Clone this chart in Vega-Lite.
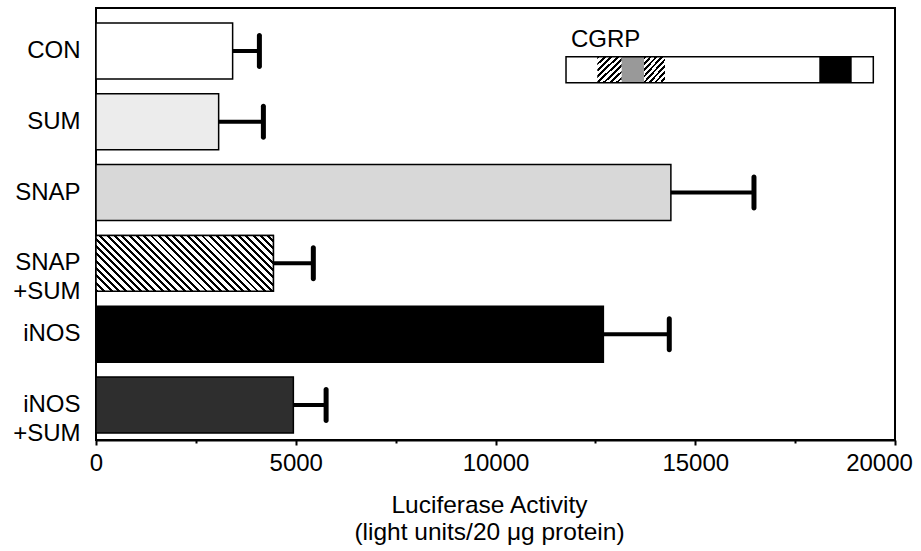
{
  "$schema": "https://vega.github.io/schema/vega-lite/v6.json",
  "width": 799,
  "height": 432,
  "autosize": {"type": "none"},
  "padding": {"left": 96, "top": 8, "right": 26, "bottom": 111},
  "background": "white",
  "config": {"font": "Liberation Sans", "view": {"stroke": "black", "strokeWidth": 2}},
  "datasets": {
    "bars": [
      {"group": "CON", "value": 3420, "upper": 4090},
      {"group": "SUM", "value": 3070, "upper": 4190},
      {"group": "SNAP", "value": 14390, "upper": 16470},
      {"group": "SNAP +SUM", "value": 4440, "upper": 5440},
      {"group": "iNOS", "value": 12700, "upper": 14350},
      {"group": "iNOS +SUM", "value": 4940, "upper": 5760}
    ],
    "cgrp": [
      {"kind": "hatch", "start": 12548, "end": 13159, "top": 0.676, "bottom": 1.0375, "name": ""},
      {"kind": "hatch", "start": 13717, "end": 14243, "top": 0.676, "bottom": 1.0375, "name": ""},
      {"kind": "gray", "start": 13159, "end": 13717, "top": 0.676, "bottom": 1.0375, "name": ""},
      {"kind": "black", "start": 18105, "end": 18916, "top": 0.676, "bottom": 1.0375, "name": ""},
      {"kind": "box", "start": 11765, "end": 19457, "top": 0.676, "bottom": 1.0375, "name": ""},
      {"kind": "label", "start": 11890, "end": 11890, "top": 0.5375, "bottom": 0.5375, "name": "CGRP"}
    ]
  },
  "layer": [
    {
      "data": {"name": "bars"},
      "encoding": {
        "y": {
          "field": "group",
          "type": "nominal",
          "scale": {
            "domain": ["CON", "SUM", "SNAP", "SNAP +SUM", "iNOS", "iNOS +SUM"],
            "paddingInner": 0.21,
            "paddingOuter": 0.156,
            "align": 0.68
          },
          "axis": {
            "title": null,
            "domain": false,
            "ticks": false,
            "labelFontSize": 24,
            "labelColor": "black",
            "labelPadding": 16,
            "labelAlign": "right",
            "labelBaseline": "middle",
            "labelLineHeight": 29,
            "labelExpr": "split(datum.label, ' ')"
          }
        }
      },
      "layer": [
        {
          "mark": {"type": "bar", "stroke": "black", "strokeWidth": 1.5},
          "encoding": {
            "x": {
              "field": "value",
              "type": "quantitative",
              "scale": {"domain": [0, 20000], "nice": false},
              "axis": {
                "values": [0, 2500, 5000, 7500, 10000, 12500, 15000, 17500, 20000],
                "format": "d",
                "labelExpr": "datum.value % 5000 === 0 ? datum.label : ''",
                "grid": false,
                "domainColor": "black",
                "domainWidth": 2,
                "tickColor": "black",
                "tickWidth": 2,
                "tickSize": {"condition": {"test": "datum.value % 5000 === 0", "value": 5}, "value": 3},
                "labelFlush": false,
                "labelOffset": {"condition": {"test": "datum.value === 20000", "value": -16}, "value": 0},
                "labelFontSize": 24,
                "labelColor": "black",
                "labelPadding": 6,
                "title": ["Luciferase Activity", "(light units/20 μg protein)"],
                "titleFontSize": 24.5,
                "titleFontWeight": "normal",
                "titleColor": "black",
                "titleLineHeight": 27,
                "titleX": 393,
                "titleY": 53
              }
            },
            "fill": {
              "condition": [
                {"test": "datum.group === 'SUM'", "value": "#ececec"},
                {"test": "datum.group === 'SNAP'", "value": "#d8d8d8"},
                {"test": "datum.group === 'SNAP +SUM'", "value": "#888888"},
                {"test": "datum.group === 'iNOS'", "value": "black"},
                {"test": "datum.group === 'iNOS +SUM'", "value": "#2e2e2e"}
              ],
              "value": "white"
            }
          }
        },
        {
          "transform": [{"filter": "datum.group === 'SNAP +SUM'"}],
          "mark": {
            "type": "bar",
            "stroke": "black",
            "strokeWidth": 1.5,
            "fill": {
              "gradient": "linear", "x1": 0, "y1": 1, "x2": 1.1964, "y2": 0.6228,
              "stops": [
                {"offset":0,"color":"black"},{"offset":0.0125,"color":"black"},{"offset":0.0125,"color":"white"},{"offset":0.03125,"color":"white"},
                {"offset":0.03125,"color":"black"},{"offset":0.04375,"color":"black"},{"offset":0.04375,"color":"white"},{"offset":0.0625,"color":"white"},
                {"offset":0.0625,"color":"black"},{"offset":0.075,"color":"black"},{"offset":0.075,"color":"white"},{"offset":0.09375,"color":"white"},
                {"offset":0.09375,"color":"black"},{"offset":0.10625,"color":"black"},{"offset":0.10625,"color":"white"},{"offset":0.125,"color":"white"},
                {"offset":0.125,"color":"black"},{"offset":0.1375,"color":"black"},{"offset":0.1375,"color":"white"},{"offset":0.15625,"color":"white"},
                {"offset":0.15625,"color":"black"},{"offset":0.16875,"color":"black"},{"offset":0.16875,"color":"white"},{"offset":0.1875,"color":"white"},
                {"offset":0.1875,"color":"black"},{"offset":0.2,"color":"black"},{"offset":0.2,"color":"white"},{"offset":0.21875,"color":"white"},
                {"offset":0.21875,"color":"black"},{"offset":0.23125,"color":"black"},{"offset":0.23125,"color":"white"},{"offset":0.25,"color":"white"},
                {"offset":0.25,"color":"black"},{"offset":0.2625,"color":"black"},{"offset":0.2625,"color":"white"},{"offset":0.28125,"color":"white"},
                {"offset":0.28125,"color":"black"},{"offset":0.29375,"color":"black"},{"offset":0.29375,"color":"white"},{"offset":0.3125,"color":"white"},
                {"offset":0.3125,"color":"black"},{"offset":0.325,"color":"black"},{"offset":0.325,"color":"white"},{"offset":0.34375,"color":"white"},
                {"offset":0.34375,"color":"black"},{"offset":0.35625,"color":"black"},{"offset":0.35625,"color":"white"},{"offset":0.375,"color":"white"},
                {"offset":0.375,"color":"black"},{"offset":0.3875,"color":"black"},{"offset":0.3875,"color":"white"},{"offset":0.40625,"color":"white"},
                {"offset":0.40625,"color":"black"},{"offset":0.41875,"color":"black"},{"offset":0.41875,"color":"white"},{"offset":0.4375,"color":"white"},
                {"offset":0.4375,"color":"black"},{"offset":0.45,"color":"black"},{"offset":0.45,"color":"white"},{"offset":0.46875,"color":"white"},
                {"offset":0.46875,"color":"black"},{"offset":0.48125,"color":"black"},{"offset":0.48125,"color":"white"},{"offset":0.5,"color":"white"},
                {"offset":0.5,"color":"black"},{"offset":0.5125,"color":"black"},{"offset":0.5125,"color":"white"},{"offset":0.53125,"color":"white"},
                {"offset":0.53125,"color":"black"},{"offset":0.54375,"color":"black"},{"offset":0.54375,"color":"white"},{"offset":0.5625,"color":"white"},
                {"offset":0.5625,"color":"black"},{"offset":0.575,"color":"black"},{"offset":0.575,"color":"white"},{"offset":0.59375,"color":"white"},
                {"offset":0.59375,"color":"black"},{"offset":0.60625,"color":"black"},{"offset":0.60625,"color":"white"},{"offset":0.625,"color":"white"},
                {"offset":0.625,"color":"black"},{"offset":0.6375,"color":"black"},{"offset":0.6375,"color":"white"},{"offset":0.65625,"color":"white"},
                {"offset":0.65625,"color":"black"},{"offset":0.66875,"color":"black"},{"offset":0.66875,"color":"white"},{"offset":0.6875,"color":"white"},
                {"offset":0.6875,"color":"black"},{"offset":0.7,"color":"black"},{"offset":0.7,"color":"white"},{"offset":0.71875,"color":"white"},
                {"offset":0.71875,"color":"black"},{"offset":0.73125,"color":"black"},{"offset":0.73125,"color":"white"},{"offset":0.75,"color":"white"},
                {"offset":0.75,"color":"black"},{"offset":0.7625,"color":"black"},{"offset":0.7625,"color":"white"},{"offset":0.78125,"color":"white"},
                {"offset":0.78125,"color":"black"},{"offset":0.79375,"color":"black"},{"offset":0.79375,"color":"white"},{"offset":0.8125,"color":"white"},
                {"offset":0.8125,"color":"black"},{"offset":0.825,"color":"black"},{"offset":0.825,"color":"white"},{"offset":0.84375,"color":"white"},
                {"offset":0.84375,"color":"black"},{"offset":0.85625,"color":"black"},{"offset":0.85625,"color":"white"},{"offset":0.875,"color":"white"},
                {"offset":0.875,"color":"black"},{"offset":0.8875,"color":"black"},{"offset":0.8875,"color":"white"},{"offset":0.90625,"color":"white"},
                {"offset":0.90625,"color":"black"},{"offset":0.91875,"color":"black"},{"offset":0.91875,"color":"white"},{"offset":0.9375,"color":"white"},
                {"offset":0.9375,"color":"black"},{"offset":0.95,"color":"black"},{"offset":0.95,"color":"white"},{"offset":0.96875,"color":"white"},
                {"offset":0.96875,"color":"black"},{"offset":0.98125,"color":"black"},{"offset":0.98125,"color":"white"},{"offset":1,"color":"white"}
              ]
            }
          },
          "encoding": {
            "x": {"field": "value", "type": "quantitative"}
          }
        },
        {
          "mark": {"type": "rule", "strokeWidth": 4, "color": "black"},
          "encoding": {
            "x": {"field": "value", "type": "quantitative"},
            "x2": {"field": "upper"}
          }
        },
        {
          "mark": {"type": "tick", "color": "black", "size": 36, "thickness": 5, "cornerRadius": 2.5, "opacity": 1},
          "encoding": {
            "x": {"field": "upper", "type": "quantitative"}
          }
        }
      ]
    },
    {
      "data": {"name": "cgrp"},
      "encoding": {
        "x": {"field": "start", "type": "quantitative"},
        "y": {
          "field": "top",
          "type": "quantitative",
          "scale": {"domain": [0, 6], "reverse": true, "nice": false, "zero": false},
          "axis": null
        }
      },
      "layer": [
        {
          "transform": [{"filter": "datum.kind === 'hatch'"}],
          "mark": {
            "type": "rect",
            "fill": {
              "gradient": "linear", "x1": 0, "y1": 0, "x2": 0.9355, "y2": 1.057,
              "stops": [
                {"offset":0,"color":"black"},{"offset":0.056,"color":"black"},{"offset":0.056,"color":"white"},{"offset":0.125,"color":"white"},
                {"offset":0.125,"color":"black"},{"offset":0.181,"color":"black"},{"offset":0.181,"color":"white"},{"offset":0.25,"color":"white"},
                {"offset":0.25,"color":"black"},{"offset":0.306,"color":"black"},{"offset":0.306,"color":"white"},{"offset":0.375,"color":"white"},
                {"offset":0.375,"color":"black"},{"offset":0.431,"color":"black"},{"offset":0.431,"color":"white"},{"offset":0.5,"color":"white"},
                {"offset":0.5,"color":"black"},{"offset":0.556,"color":"black"},{"offset":0.556,"color":"white"},{"offset":0.625,"color":"white"},
                {"offset":0.625,"color":"black"},{"offset":0.681,"color":"black"},{"offset":0.681,"color":"white"},{"offset":0.75,"color":"white"},
                {"offset":0.75,"color":"black"},{"offset":0.806,"color":"black"},{"offset":0.806,"color":"white"},{"offset":0.875,"color":"white"},
                {"offset":0.875,"color":"black"},{"offset":0.931,"color":"black"},{"offset":0.931,"color":"white"},{"offset":1,"color":"white"}
              ]
            }
          },
          "encoding": {
            "x2": {"field": "end"},
            "y2": {"field": "bottom"}
          }
        },
        {
          "transform": [{"filter": "datum.kind === 'gray' || datum.kind === 'black'"}],
          "mark": {"type": "rect"},
          "encoding": {
            "x2": {"field": "end"},
            "y2": {"field": "bottom"},
            "fill": {"condition": {"test": "datum.kind === 'gray'", "value": "#999999"}, "value": "black"}
          }
        },
        {
          "transform": [{"filter": "datum.kind === 'box'"}],
          "mark": {"type": "rect", "fill": "transparent", "stroke": "black", "strokeWidth": 1.5},
          "encoding": {
            "x2": {"field": "end"},
            "y2": {"field": "bottom"}
          }
        },
        {
          "transform": [{"filter": "datum.kind === 'label'"}],
          "mark": {"type": "text", "align": "left", "baseline": "alphabetic", "fontSize": 24, "color": "black"},
          "encoding": {
            "text": {"field": "name"}
          }
        }
      ]
    }
  ],
  "resolve": {"scale": {"y": "independent"}}
}
